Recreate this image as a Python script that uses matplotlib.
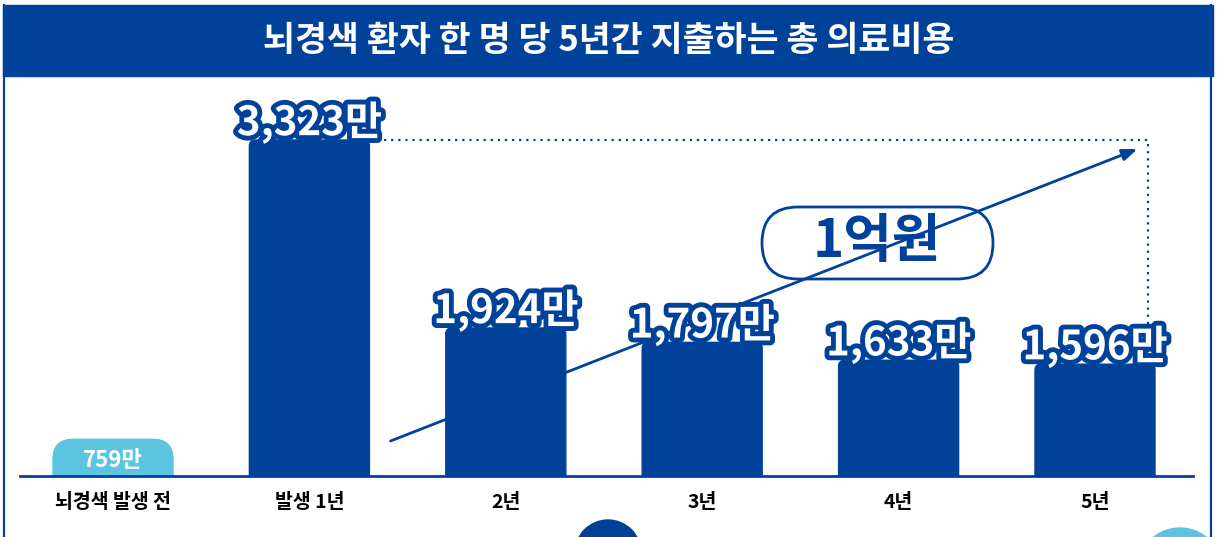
import numpy as np
import matplotlib.pyplot as plt
import matplotlib.patheffects as pe
from matplotlib.patches import FancyBboxPatch, Rectangle, Circle

plt.rcParams['font.family'] = ['Noto Sans CJK KR', 'DejaVu Sans']

# 데이터 (단위: 만원)
categories = ["뇌경색 발생 전", "발생 1년", "2년", "3년", "4년", "5년"]
costs = [759, 3323, 1924, 1797, 1633, 1596]
value_labels = ["759만", "3,323만", "1,924만", "1,797만", "1,633만", "1,596만"]
title = "뇌경색 환자 한 명 당 5년간 지출하는 총 의료비용"
total_label = "1억원"

BLUE = "#00419a"
LIGHT = "#5bc5e1"
W, H = 1217, 537

fig = plt.figure(figsize=(W / 100, H / 100), dpi=100)

# 배경 레이어 (픽셀 좌표)
bg = fig.add_axes([0, 0, 1, 1], zorder=0)
bg.set_xlim(0, W)
bg.set_ylim(H, 0)
bg.axis("off")
bg.add_patch(Rectangle((3, 5), W - 7, 71, color=BLUE))
bg.plot([4, 4], [5, H], color=BLUE, lw=1.6)
bg.plot([1211, 1211], [5, H], color=BLUE, lw=1.6)
bg.add_patch(Circle((608, 553), 33, color=BLUE))
bg.add_patch(Circle((1180, 570), 42, color=LIGHT))
bg.text(W / 2, 40, title, color="white", fontsize=25, fontweight="bold",
        ha="center", va="center")

# 상승 화살표와 1억원 표시
bg.annotate("", xy=(1140, 148), xytext=(388, 442),
            arrowprops=dict(arrowstyle="-|>,head_length=0.9,head_width=0.35",
                            color=BLUE, lw=2))
bg.add_patch(FancyBboxPatch((762, 207), 231, 72,
                            boxstyle="round,pad=0,rounding_size=36",
                            facecolor="white", edgecolor=BLUE, lw=2))
bg.text(877, 242, total_label, color=BLUE, fontsize=38, fontweight="heavy",
        ha="center", va="center")

# 막대 차트 (원본처럼 높이 차이를 강조하는 거듭제곱 스케일)
L, R, B, T = 20, 1193, 476, 80
ax = fig.add_axes([L / W, 1 - B / H, (R - L) / W, (B - T) / H], zorder=1)
ax.patch.set_alpha(0)
step = 196.4
ax.set_xlim((L - 113) / step, (R - 113) / step)
ax.set_yscale("function", functions=(lambda y: np.sign(y) * np.abs(y) ** 1.5,
                                      lambda y: np.sign(y) * np.abs(y) ** (1 / 1.5)))
ax.set_ylim(0, 3323 * (396 / 336) ** (1 / 1.5))

bars = ax.bar(range(len(costs)), costs, width=120 / step, color=BLUE)
fig.canvas.draw()

# 둥근 모서리 막대로 교체 (화면 좌표)
for i, b in enumerate(bars):
    b.set_visible(False)
    (x0, y0), (x1, y1) = ax.transData.transform([(b.get_x(), 0),
                                                  (b.get_x() + b.get_width(), b.get_height())])
    r = 20 if i == 0 else 6
    p = FancyBboxPatch((x0, y0 - 30), x1 - x0, y1 - y0 + 30,
                       boxstyle=f"round,pad=0,rounding_size={r}",
                       color=LIGHT if i == 0 else BLUE, transform=None, zorder=2)
    ax.add_patch(p)
    p.set_clip_path(ax.patch)

# 값 라벨
outline = [pe.Stroke(linewidth=7, foreground=BLUE), pe.Normal()]
for i, (v, lab) in enumerate(zip(costs, value_labels)):
    if i == 0:
        ax.annotate(lab, (i, v), xytext=(0, -15), textcoords="offset points",
                    color="white", fontsize=16, fontweight="bold",
                    ha="center", va="center", zorder=4)
    else:
        ax.annotate(lab, (i, v), xytext=(0, -3), textcoords="offset points",
                    color="white", fontsize=29, fontweight="bold",
                    ha="center", va="bottom", path_effects=outline, zorder=4)

# 점선: 발생 1년 수준에서 5년까지
ax.plot([1.38, 5.27, 5.27], [costs[1], costs[1], costs[5]], color=BLUE,
        lw=1.6, ls=(0, (1, 2.2)), zorder=1)

for s in ["top", "left", "right"]:
    ax.spines[s].set_visible(False)
ax.spines["bottom"].set_color(BLUE)
ax.spines["bottom"].set_linewidth(2)
ax.set_yticks([])
ax.minorticks_off()
ax.set_xticks(range(len(categories)))
ax.set_xticklabels(categories, fontsize=14, fontweight="bold")
ax.tick_params(axis="x", length=0, pad=12)

fig.savefig("out.png", dpi=100)
